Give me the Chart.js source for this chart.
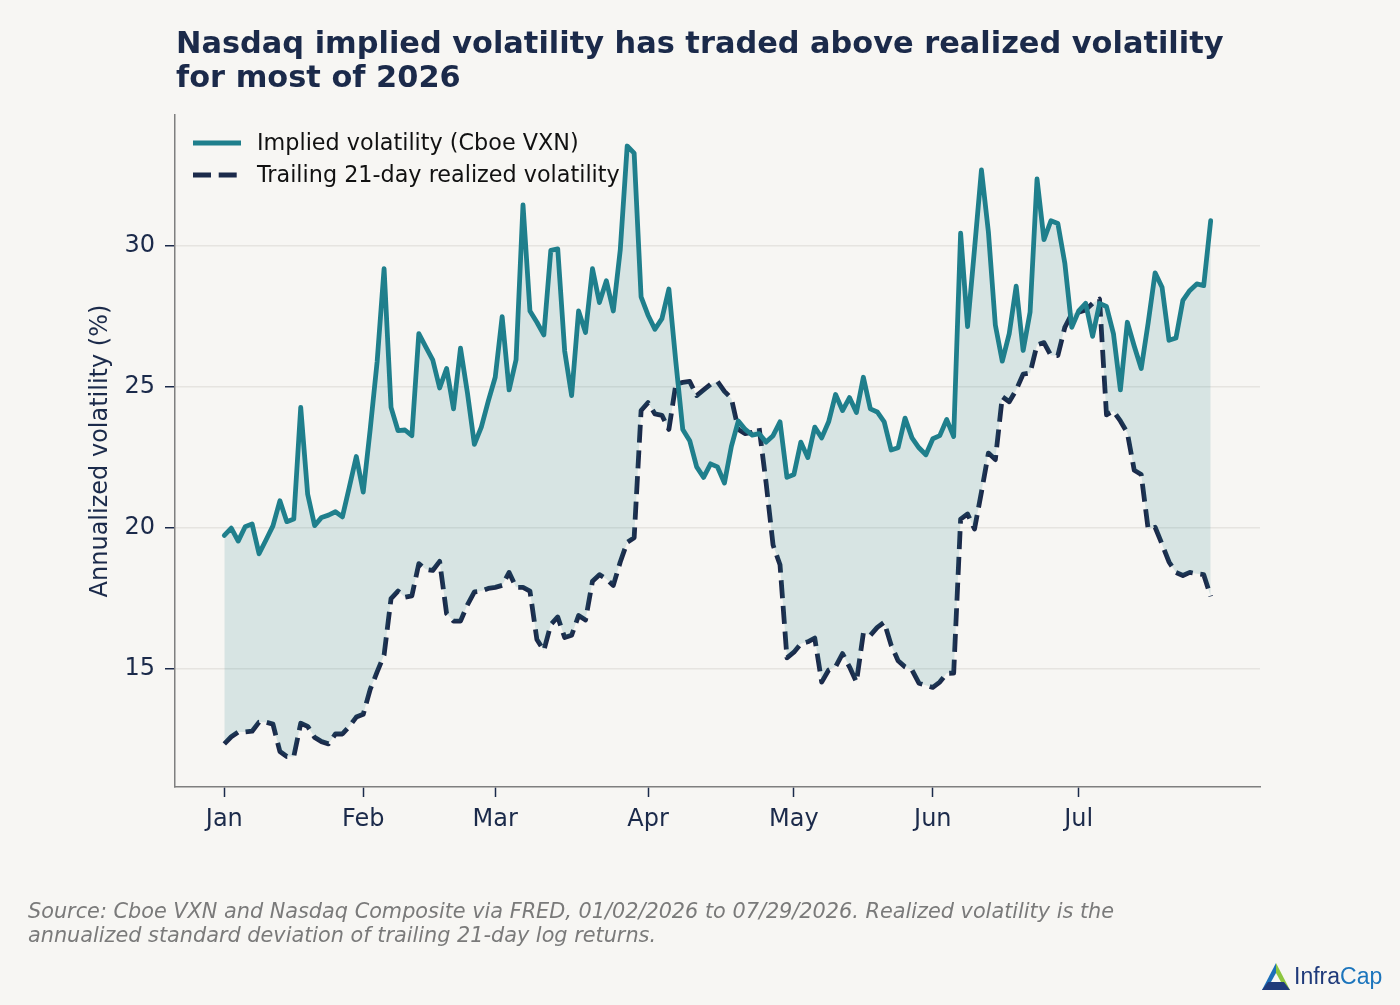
<!DOCTYPE html>
<html>
<head>
<meta charset="utf-8">
<script src="https://cdn.jsdelivr.net/npm/chart.js@4.4.1/dist/chart.umd.min.js"></script>
<style>
  html,body{margin:0;padding:0;background:#F7F6F3;}
  #wrap{position:relative;width:1400px;height:1005px;overflow:hidden;background:#F7F6F3;}
  #c{position:absolute;left:0;top:0;}
  #title{position:absolute;left:176px;top:26px;font-family:"DejaVu Sans";font-weight:bold;font-size:30.4px;line-height:34px;color:#1B2A4A;white-space:nowrap;}
  #note{position:absolute;left:28px;top:899px;font-family:"DejaVu Sans";font-style:italic;font-size:20.8px;line-height:24px;color:#7A7A7A;white-space:nowrap;}
  #logo{position:absolute;left:1260px;top:960px;width:34px;height:34px;}
  #logoText{position:absolute;left:1294px;top:962px;font-family:"Liberation Sans";font-size:23px;line-height:28px;white-space:nowrap;}
</style>
</head>
<body>
<div id="wrap">
  <canvas id="c" width="1400" height="1005"></canvas>
  <div id="title">Nasdaq implied volatility has traded above realized volatility<br>for most of 2026</div>
  <div id="note">Source: Cboe VXN and Nasdaq Composite via FRED, 01/02/2026 to 07/29/2026. Realized volatility is the<br>annualized standard deviation of trailing 21-day log returns.</div>
  <svg id="logo" width="34" height="34" viewBox="0 0 34 34">
    <polygon points="16,3 2,30 9,30 16,16" fill="#1C6FB8"/>
    <polygon points="16,3 30,30 23,30 16,16" fill="#8CC63F"/>
    <polygon points="2,30 30,30 24,22 8,22" fill="#1F3A7A"/>
    <polygon points="16,13 11,22 21,22" fill="#F7F6F3"/>
  </svg>
  <div id="logoText"><span style="color:#1F3A7A">Infra</span><span style="color:#1C75BC">Cap</span></div>
</div>
<script>
// ---- data ----
const tradingDays = [
 "01-02","01-05","01-06","01-07","01-08","01-09","01-12","01-13","01-14","01-15","01-16","01-20","01-21","01-22","01-23","01-26","01-27","01-28","01-29","01-30",
 "02-02","02-03","02-04","02-05","02-06","02-09","02-10","02-11","02-12","02-13","02-17","02-18","02-19","02-20","02-23","02-24","02-25","02-26","02-27",
 "03-02","03-03","03-04","03-05","03-06","03-09","03-10","03-11","03-12","03-13","03-16","03-17","03-18","03-19","03-20","03-23","03-24","03-25","03-26","03-27","03-30","03-31",
 "04-01","04-02","04-06","04-07","04-08","04-09","04-10","04-13","04-14","04-15","04-16","04-17","04-20","04-21","04-22","04-23","04-24","04-27","04-28","04-29","04-30",
 "05-01","05-04","05-05","05-06","05-07","05-08","05-11","05-12","05-13","05-14","05-15","05-18","05-19","05-20","05-21","05-22","05-26","05-27","05-28","05-29",
 "06-01","06-02","06-03","06-04","06-05","06-08","06-09","06-10","06-11","06-12","06-15","06-16","06-17","06-18","06-22","06-23","06-24","06-25","06-26","06-29","06-30",
 "07-01","07-02","07-06","07-07","07-08","07-09","07-10","07-13","07-14","07-15","07-16","07-17","07-20","07-21","07-22","07-23","07-24","07-27","07-28","07-29"
];
const monthLabels = ["Jan","Feb","Mar","Apr","May","Jun","Jul"];
const monthStartDays = ["01-02","02-02","03-02","04-01","05-01","06-01","07-01"];
const yTicks = [15,20,25,30];

const impliedVol = [
 19.74,20.0,19.54,20.05,20.15,19.09,19.58,20.08,20.97,20.23,20.32,24.28,21.2,20.09,20.38,20.46,20.58,20.4,21.46,22.54,
 21.28,23.5,25.9,29.2,24.28,23.46,23.48,23.28,26.9,26.43,25.97,24.97,25.66,24.23,26.38,24.8,22.97,23.58,24.5,
 25.35,27.5,24.9,25.97,31.46,27.7,27.3,26.85,29.85,29.9,26.28,24.7,27.7,26.94,29.2,28.0,28.77,27.7,29.86,33.55,33.3,28.2,
 27.55,27.05,27.43,28.48,25.9,23.5,23.1,22.17,21.8,22.28,22.17,21.6,22.9,23.8,23.5,23.3,23.35,23.05,23.28,23.77,21.8,
 21.9,23.05,22.5,23.58,23.2,23.77,24.74,24.17,24.63,24.1,25.35,24.23,24.12,23.77,22.77,22.85,23.9,23.2,22.85,22.6,
 23.17,23.28,23.85,23.25,30.46,27.15,29.9,32.7,30.5,27.2,25.92,26.9,28.58,26.3,27.66,32.38,30.23,30.9,30.8,29.4,27.12,
 27.7,27.97,26.8,27.97,27.86,26.9,24.9,27.3,26.45,25.66,27.28,29.05,28.54,26.66,26.74,28.08,28.43,28.66,28.6,30.9
];
const realizedVol = [
 12.35,12.6,12.77,12.77,12.8,13.12,13.12,13.05,12.08,11.9,11.9,13.08,12.97,12.58,12.43,12.35,12.7,12.7,12.97,13.3,
 13.4,14.28,14.9,15.5,17.5,17.77,17.55,17.6,18.74,18.54,18.5,18.82,16.97,16.7,16.7,17.28,17.74,17.77,17.86,
 17.9,17.97,18.43,17.9,17.9,17.77,16.05,15.66,16.58,16.85,16.12,16.2,16.9,16.74,18.12,18.35,18.2,17.97,18.8,19.5,19.66,24.17,
 24.45,24.05,24.0,23.5,25.1,25.17,25.2,24.7,24.9,25.1,25.2,24.85,24.6,23.5,23.35,23.4,23.55,21.6,19.4,18.7,15.4,
 15.6,15.9,15.97,16.1,14.54,14.97,15.08,15.55,15.08,14.54,16.28,16.2,16.48,16.66,15.85,15.3,15.08,14.97,14.5,14.43,
 14.35,14.54,14.85,14.86,20.32,20.5,19.97,21.28,22.66,22.43,24.66,24.48,24.9,25.46,25.5,26.5,26.58,26.12,26.12,27.12,27.6,
 27.66,27.74,27.97,28.12,24.02,24.15,23.8,23.38,22.05,21.9,19.97,20.03,19.43,18.8,18.43,18.32,18.43,18.38,18.35,17.58
];
const seriesNames = ["Implied volatility (Cboe VXN)","Trailing 21-day realized volatility"];

// ---- styling ----
const TEAL = "#1F7F8C";
const NAVY = "#1B2A4A";
const FONT = "DejaVu Sans";

const monthStartIdx = monthStartDays.map(d => tradingDays.indexOf(d));
const toXY = arr => arr.map((v, i) => ({x: i, y: v}));

const inlineLegend = {
  id: "inlineLegend",
  afterDraw(chart) {
    const ctx = chart.ctx;
    ctx.save();
    chart.data.datasets.forEach((ds, k) => {
      const y = 143 + 32 * k;
      ctx.beginPath();
      ctx.lineWidth = ds.borderWidth;
      ctx.strokeStyle = ds.borderColor;
      ctx.setLineDash(ds.borderDash || []);
      ctx.lineCap = "butt";
      ctx.moveTo(193, y);
      ctx.lineTo(241, y);
      ctx.stroke();
      ctx.setLineDash([]);
      ctx.fillStyle = "#111111";
      ctx.font = '22.3px "' + FONT + '"';
      ctx.textBaseline = "middle";
      ctx.textAlign = "left";
      ctx.fillText(ds.label, 257, y + 1);
    });
    ctx.restore();
  }
};

new Chart(document.getElementById("c"), {
  type: "line",
  data: {
    datasets: [
      {
        label: seriesNames[0],
        data: toXY(impliedVol),
        borderColor: TEAL,
        borderWidth: 4.8,
        backgroundColor: "rgba(31,127,140,0.15)",
        fill: "+1",
        pointRadius: 0,
        tension: 0,
        borderJoinStyle: "round",
        borderCapStyle: "round"
      },
      {
        label: seriesNames[1],
        data: toXY(realizedVol),
        borderColor: NAVY,
        borderWidth: 4.8,
        borderDash: [18, 7.7],
        fill: false,
        pointRadius: 0,
        tension: 0,
        borderJoinStyle: "round",
        borderCapStyle: "butt"
      }
    ]
  },
  options: {
    responsive: false,
    devicePixelRatio: 1,
    animation: false,
    events: [],
    layout: {padding: {left: 0, top: 115, right: 140, bottom: 0}},
    plugins: {legend: {display: false}, tooltip: {enabled: false}, title: {display: false}},
    scales: {
      x: {
        type: "linear",
        min: -7.1,
        max: 149.1,
        afterBuildTicks: s => { s.ticks = monthStartIdx.map(v => ({value: v})); },
        afterFit: s => { s.height = 218; },
        grid: {drawOnChartArea: false, drawTicks: true, tickLength: 10, tickColor: NAVY, tickWidth: 1.5},
        border: {display: true, color: "#7F7F7F", width: 1.5},
        ticks: {
          autoSkip: false, maxRotation: 0, padding: 8,
          color: NAVY, font: {family: FONT, size: 24},
          callback: v => monthLabels[monthStartIdx.indexOf(v)]
        }
      },
      y: {
        type: "linear",
        min: 10.82,
        max: 34.65,
        afterBuildTicks: s => { s.ticks = yTicks.map(v => ({value: v})); },
        afterFit: s => { s.width = 175; },
        grid: {color: "#E6E4E0", lineWidth: 1.5, drawTicks: true, tickLength: 10, tickColor: NAVY, tickWidth: 1.5},
        border: {display: true, color: "#7F7F7F", width: 1.5},
        ticks: {padding: 10, color: NAVY, font: {family: FONT, size: 24}},
        title: {
          display: true, text: "Annualized volatility (%)",
          color: NAVY, font: {family: FONT, size: 24},
          padding: {top: 86, bottom: 0}
        }
      }
    }
  },
  plugins: [inlineLegend]
});
</script>
</body>
</html>
